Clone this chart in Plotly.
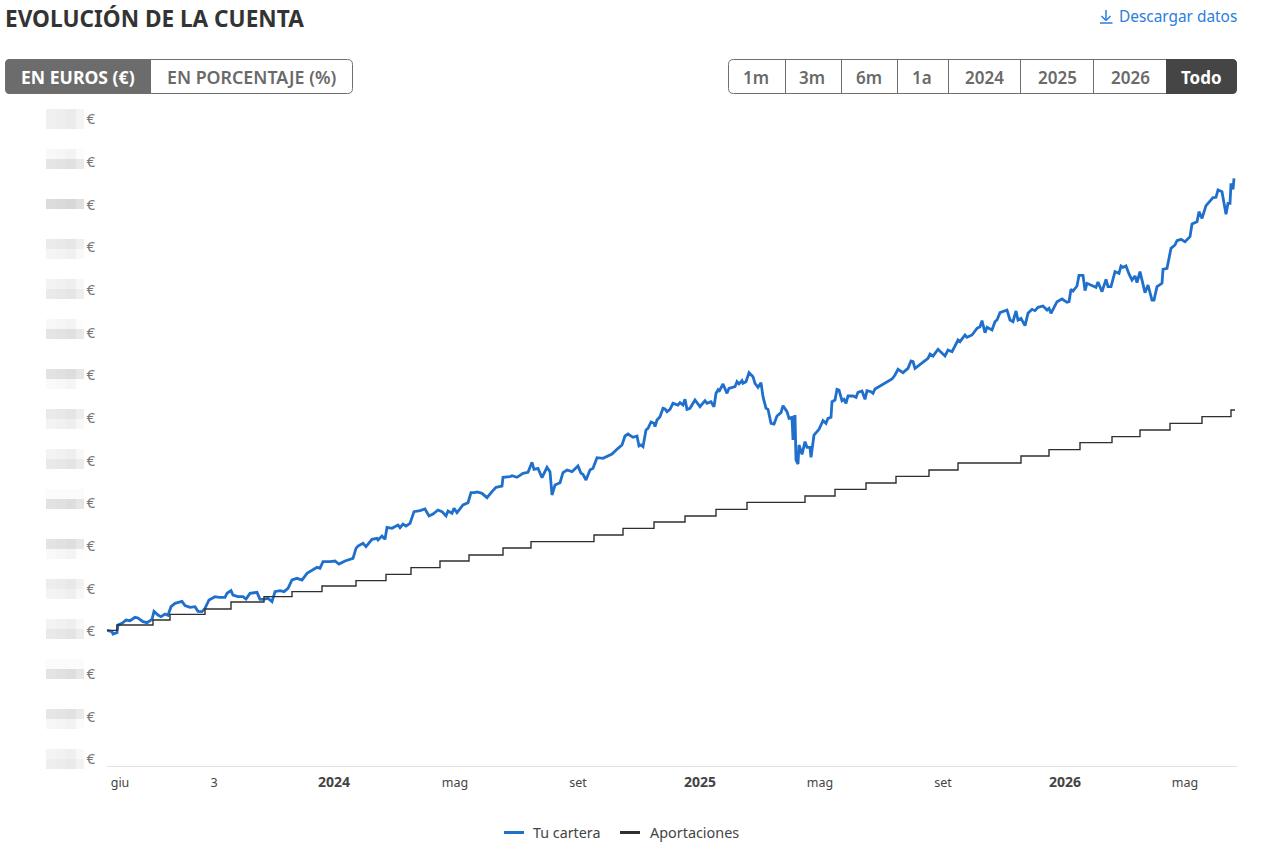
import pandas as pd
import plotly.graph_objects as go

# Series start date; the day lists below count from here.
START = pd.Timestamp("2023-05-19")

portfolio_days = [
    0, 5, 6, 10, 11, 16, 19, 23, 28, 31, 36, 40, 45, 47, 51, 54, 58, 61, 64, 68, 75, 78, 83, 88, 91, 95, 98, 102,
    108, 112, 118, 120, 124, 126, 131, 136, 139, 143, 150, 153, 156, 161, 165, 168, 173, 177, 181, 185, 190, 195,
    200, 206, 210, 213, 216, 223, 228, 232, 238, 246, 249, 251, 256, 259, 265, 270, 271, 275, 278, 280, 285, 291,
    293, 296, 299, 303, 307, 313, 318, 322, 326, 331, 335, 339, 341, 345, 347, 350, 356, 361, 364, 368, 370, 375,
    380, 385, 389, 395, 396, 403, 405, 410, 416, 421, 425, 427, 431, 435, 440, 443, 445, 448, 453, 456, 460, 465,
    471, 474, 476, 479, 483, 486, 490, 496, 505, 511, 515, 518, 521, 526, 530, 532, 534, 536, 539, 541, 544, 547,
    548, 550, 553, 556, 558, 560, 563, 566, 568, 571, 573, 576, 578, 580, 583, 588, 593, 598, 600, 604, 607, 609,
    611, 612, 616, 620, 622, 628, 630, 632, 635, 636, 639, 642, 646, 648, 651, 654, 656, 659, 661, 664, 667, 670,
    674, 676, 680, 682, 685, 686, 688, 689, 691, 692, 695, 698, 700, 703, 704, 707, 710, 712, 716, 719, 721, 724,
    725, 728, 730, 732, 735, 737, 739, 741, 746, 749, 751, 755, 758, 760, 764, 766, 768, 772, 778, 785, 788, 791,
    796, 801, 804, 806, 808, 811, 816, 821, 823, 826, 831, 835, 838, 841, 845, 848, 851, 853, 858, 860, 865, 870,
    873, 875, 878, 880, 885, 888, 890, 893, 899, 900, 903, 906, 909, 911, 914, 918, 921, 925, 928, 931, 936, 940,
    942, 944, 950, 955, 960, 962, 964, 966, 970, 972, 976, 978, 980, 985, 989, 991, 995, 999, 1001, 1004, 1008,
    1012, 1014, 1016, 1019, 1022, 1025, 1028, 1030, 1033, 1038, 1041, 1045, 1047, 1050, 1055, 1056, 1060, 1064,
    1068, 1070, 1074, 1078, 1083, 1085, 1090, 1092, 1095, 1099, 1101, 1106, 1109, 1111, 1115, 1117, 1119, 1121,
    1123, 1124, 1126, 1127,
]
portfolio_values = [
    3830, 3790, 3720, 3760, 3990, 4060, 4140, 4120, 4220, 4200, 4090, 4060, 4160, 4400, 4290, 4240, 4320, 4280,
    4540, 4640, 4700, 4570, 4520, 4540, 4400, 4390, 4490, 4740, 4840, 4820, 4820, 4940, 5020, 4890, 4840, 4840,
    4770, 4940, 4970, 4760, 4760, 4790, 4690, 4990, 5020, 4990, 5090, 5340, 5390, 5340, 5540, 5640, 5720, 5690,
    5890, 5890, 5910, 5820, 5910, 5990, 6290, 6360, 6440, 6340, 6560, 6590, 6540, 6660, 6560, 6920, 6890, 6990,
    6910, 7020, 6960, 7040, 7390, 7420, 7470, 7260, 7320, 7440, 7390, 7260, 7410, 7340, 7490, 7360, 7590, 7660,
    7960, 7960, 7980, 7940, 7810, 7990, 8120, 8160, 8420, 8440, 8470, 8420, 8540, 8570, 8870, 8660, 8690, 8410,
    8720, 8590, 7890, 8190, 8260, 8560, 8640, 8590, 8760, 8540, 8510, 8340, 8640, 8690, 9010, 8990, 9120, 9290,
    9390, 9660, 9720, 9620, 9660, 9360, 9390, 9340, 9840, 9890, 10080, 10040, 9940, 10140, 10240, 10490, 10470,
    10390, 10460, 10640, 10610, 10590, 10660, 10590, 10760, 10460, 10490, 10740, 10540, 10720, 10640, 10690,
    10540, 10940, 11040, 10990, 11220, 10940, 11090, 11140, 11290, 11220, 11320, 11240, 11290, 11560, 11440,
    11240, 11120, 11260, 10840, 10490, 10460, 10040, 10020, 10260, 10360, 10570, 10390, 10190, 10220, 9540,
    10290, 8940, 8820, 9390, 9110, 9490, 9320, 9320, 9020, 9690, 9790, 9860, 10120, 10040, 10190, 10220, 10690,
    10740, 11060, 11040, 10720, 10760, 10640, 10860, 10860, 10820, 10970, 11010, 10760, 11020, 10990, 10940,
    11070, 11140, 11240, 11370, 11490, 11660, 11560, 11690, 11910, 11890, 11690, 11760, 11860, 11990, 12120,
    12060, 12260, 12160, 12060, 12240, 12190, 12360, 12540, 12490, 12690, 12620, 12690, 12890, 12940, 13120,
    12760, 12920, 12840, 13090, 13140, 13360, 13420, 13440, 13140, 13090, 13410, 13140, 13190, 12970, 13340,
    13460, 13420, 13520, 13560, 13440, 13490, 13340, 13690, 13770, 13670, 13690, 14060, 14010, 14160, 14480,
    14480, 14020, 14240, 14160, 14120, 14280, 13990, 14360, 14140, 14140, 14590, 14540, 14760, 14720, 14760,
    14520, 14340, 14460, 14260, 14590, 13960, 14190, 13740, 13740, 14140, 14240, 14660, 14690, 15290, 15390,
    15520, 15560, 15490, 15640, 16020, 16090, 16390, 16190, 16570, 16640, 16810, 16820, 17040, 16990, 16590,
    16310, 16640, 16640, 17240, 17060, 17390,
]

contribution_days = [
    0, 10, 46, 63, 98, 124, 157, 185, 215, 249, 279, 304, 333, 362, 396, 424, 487, 516, 547, 578, 609, 640, 698,
    728, 759, 789, 822, 851, 914, 942, 973, 1005, 1033, 1063, 1095, 1124, 1128,
]
contribution_values = [
    3830, 3990, 4140, 4310, 4470, 4680, 4840, 4990, 5160, 5320, 5510, 5710, 5910, 6090, 6300, 6490, 6690, 6890,
    7080, 7260, 7460, 7670, 7860, 8060, 8250, 8450, 8640, 8850, 9060, 9250, 9460, 9640, 9840, 10040, 10240,
    10440, 10440,
]

tick_dates = ["2023-06-01", "2023-09-03", "2024-01-01", "2024-05-01", "2024-09-01", "2025-01-01", "2025-05-01",
              "2025-09-01", "2026-01-01", "2026-05-01"]
year_style = '<span style="font-size:14px"><b>{}</b></span>'
tick_names = ["giu", "3", year_style.format("2024"), "mag", "set", year_style.format("2025"), "mag", "set",
              year_style.format("2026"), "mag"]
range_labels = ["1m", "3m", "6m", "1a", "2024", "2025", "2026"]
unit_labels = ["EN EUROS (€)", "EN PORCENTAJE (%)"]

WIDTH, HEIGHT = 1266, 854
LEFT, RIGHT, TOP, BOTTOM = 107, 1237, 108, 766
UI_FONT = "Noto Sans"
VALUE_STEP = 1280


def fx(px):
    return (px - LEFT) / (RIGHT - LEFT)


def fy(py):
    return (BOTTOM - py) / (BOTTOM - TOP)


def rounded(x0, y0, x1, y1, left=True, right=True, r=5):
    """SVG path in paper coordinates for a rectangle with optional rounded sides."""
    pts = []
    if left:
        pts.append(f"M{fx(x0)},{fy(y0 + r)} Q{fx(x0)},{fy(y0)} {fx(x0 + r)},{fy(y0)}")
    else:
        pts.append(f"M{fx(x0)},{fy(y0)}")
    if right:
        pts.append(f"L{fx(x1 - r)},{fy(y0)} Q{fx(x1)},{fy(y0)} {fx(x1)},{fy(y0 + r)}")
        pts.append(f"L{fx(x1)},{fy(y1 - r)} Q{fx(x1)},{fy(y1)} {fx(x1 - r)},{fy(y1)}")
    else:
        pts.append(f"L{fx(x1)},{fy(y0)} L{fx(x1)},{fy(y1)}")
    if left:
        pts.append(f"L{fx(x0 + r)},{fy(y1)} Q{fx(x0)},{fy(y1)} {fx(x0)},{fy(y1 - r)} Z")
    else:
        pts.append(f"L{fx(x0)},{fy(y1)} Z")
    return " ".join(pts)


def rule(x0, y0, x1, y1, color, width=1):
    return dict(type="line", xref="paper", yref="paper", x0=fx(x0), y0=fy(y0), x1=fx(x1), y1=fy(y1),
                line=dict(color=color, width=width))


def label(text, px, py, size, color, anchor="center", weight=400):
    return dict(text=text, xref="paper", yref="paper", x=fx(px), y=fy(py), xanchor=anchor, yanchor="middle",
                showarrow=False, font=dict(family=UI_FONT, size=size, color=color, weight=weight))


BORDER = "#6f6f6f"
MUTED = "#6a6a6a"
LINK = "#2b7de0"
BLUE = "#1f6fcc"
DARK = "#2f2f2f"

shapes, notes = [], []

# Heading and download link
notes.append(label("EVOLUCIÓN DE LA CUENTA", 3, 18, 22.6, "#333333", "left", 700))
notes.append(label("Descargar datos", 1117, 17, 15.4, LINK, "left"))
shapes += [rule(1106, 10, 1106, 20, LINK, 1.5), rule(1101.5, 16, 1106, 20.5, LINK, 1.5),
           rule(1110.5, 16, 1106, 20.5, LINK, 1.5), rule(1100, 23, 1112.5, 23, LINK, 1.5)]

# Euro / percentage switch
shapes.append(dict(type="path", xref="paper", yref="paper", path=rounded(5, 59, 151, 94, right=False),
                   fillcolor="#6c6c6c", line=dict(width=0)))
shapes.append(dict(type="path", xref="paper", yref="paper", path=rounded(5.5, 59.5, 352.5, 93.5),
                   line=dict(color=BORDER, width=1)))
notes.append(label(unit_labels[0], 78, 77, 17.6, "#ffffff", weight=700))
notes.append(label(unit_labels[1], 251, 77, 17.8, MUTED, weight=600))

# Period selector
range_edges = [785, 841, 897, 948, 1020, 1093, 1166]
range_centres = [756, 812, 869, 922, 984, 1057, 1130]
shapes.append(dict(type="path", xref="paper", yref="paper", path=rounded(728.5, 59.5, 1236.5, 93.5),
                   line=dict(color=BORDER, width=1)))
shapes.append(dict(type="path", xref="paper", yref="paper", path=rounded(1166, 59, 1237, 94, left=False),
                   fillcolor="#454545", line=dict(width=0)))
for edge in range_edges[:-1]:
    shapes.append(rule(edge + 0.5, 59, edge + 0.5, 94, BORDER))
for text, centre in zip(range_labels, range_centres):
    notes.append(label(text, centre, 77, 17, MUTED, weight=600))
notes.append(label("Todo", 1201, 77, 17, "#ffffff", weight=700))

# Masked amounts beside the value axis: two pixelated rows per label
mask_rows = [
    (109, 0xf0, 119, 0xf0), (149, 0xf8, 159, 0xe5), (189, 0xff, 199, 0xdc), (239, 0xeb, 249, 0xf5),
    (279, 0xf3, 289, 0xea), (319, 0xf8, 329, 0xe5), (369, 0xe2, 379, 0xfa), (409, 0xea, 419, 0xf3),
    (449, 0xf3, 459, 0xe9), (489, 0xfb, 499, 0xe2), (539, 0xe3, 549, 0xf9), (579, 0xed, 589, 0xf4),
    (619, 0xf3, 629, 0xe9), (659, 0xfb, 669, 0xe3), (709, 0xe6, 719, 0xf7), (749, 0xf4, 759, 0xee),
]
mask_columns = [(46, 56, 0), (56, 66, -2), (66, 76, -5), (76, 84, 4)]
for top_y, top_grey, low_y, low_grey in mask_rows:
    for y0, grey in ((top_y, top_grey), (low_y, low_grey)):
        for x0, x1, shift in mask_columns:
            g = max(0, min(255, grey + shift if grey < 0xfb else grey))
            shapes.append(dict(type="rect", xref="paper", yref="paper", x0=fx(x0), x1=fx(x1), y0=fy(y0),
                               y1=fy(y0 + 10), fillcolor=f"rgb({g},{g},{g})", line=dict(width=0)))

# Legend drawn with the thicker key lines the page uses
shapes += [rule(504, 832.5, 524, 832.5, BLUE, 3), rule(620, 832.5, 640, 832.5, DARK, 3)]
notes.append(label("Tu cartera", 531, 832, 14.3, "#444444", "left"))
notes.append(label("Aportaciones", 648, 832, 14.4, "#444444", "left"))

fig = go.Figure()
fig.add_trace(go.Scatter(
    x=[START + pd.Timedelta(days=d) for d in portfolio_days], y=portfolio_values, mode="lines", name="Tu cartera",
    line=dict(color=BLUE, width=2.8, shape="linear"), showlegend=False, hoverinfo="skip",
))
fig.add_trace(go.Scatter(
    x=[START + pd.Timedelta(days=d) for d in contribution_days], y=contribution_values, mode="lines",
    name="Aportaciones", line=dict(color=DARK, width=1.4, shape="hv"), showlegend=False, hoverinfo="skip",
))

fig.update_layout(
    width=WIDTH, height=HEIGHT, autosize=False,
    margin=dict(l=LEFT, r=WIDTH - RIGHT, t=TOP, b=HEIGHT - BOTTOM, pad=0),
    paper_bgcolor="white", plot_bgcolor="white", showlegend=False,
    shapes=shapes, annotations=notes,
    xaxis=dict(
        type="date", range=[START, START + pd.Timedelta(days=RIGHT - LEFT)],
        tickmode="array", tickvals=tick_dates, ticktext=tick_names,
        showgrid=False, zeroline=False, showline=True, linecolor="#e2e2e2", linewidth=1,
        ticks="", tickangle=0, ticklabelstandoff=5,
        tickfont=dict(family=UI_FONT, size=12.5, color="#444444"),
    ),
    yaxis=dict(
        range=[-240, 19500], tickmode="array", tickvals=[i * VALUE_STEP for i in range(16)],
        ticktext=["€"] * 16, showgrid=False, zeroline=False, showline=False, ticks="",
        ticklabelstandoff=11, ticklabelshift=1, tickfont=dict(family=UI_FONT, size=15, color="#777777"),
    ),
)

fig.write_html("out.html", config=dict(displayModeBar=False))
